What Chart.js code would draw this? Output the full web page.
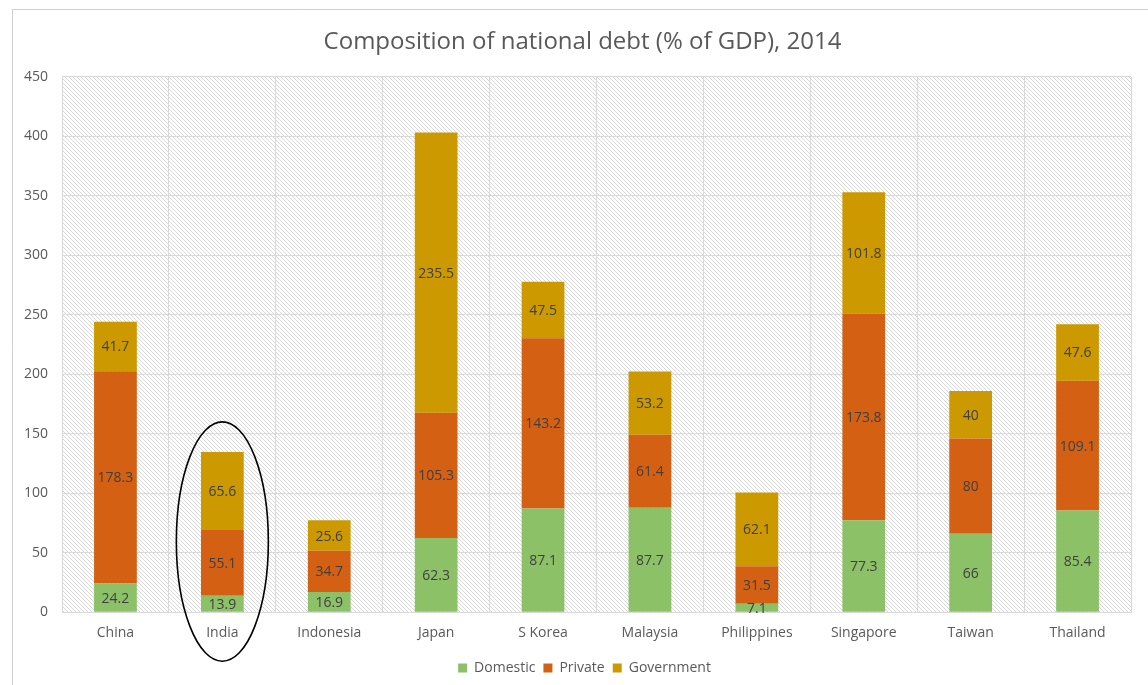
<!DOCTYPE html>
<html>
<head>
<meta charset="utf-8">
<script src="https://cdn.jsdelivr.net/npm/chart.js@4/dist/chart.umd.min.js"></script>
<style>
  html, body { margin: 0; padding: 0; background: #fff; }
  #wrap { width: 1148px; height: 685px; position: relative; }
</style>
</head>
<body>
<div id="wrap"><canvas id="debt"></canvas></div>
<script>
const countries = ["China", "India", "Indonesia", "Japan", "S Korea", "Malaysia", "Philippines", "Singapore", "Taiwan", "Thailand"];
const domestic = [24.2, 13.9, 16.9, 62.3, 87.1, 87.7, 7.1, 77.3, 66, 85.4];
const priv = [178.3, 55.1, 34.7, 105.3, 143.2, 61.4, 31.5, 173.8, 80, 109.1];
const government = [41.7, 65.6, 25.6, 235.5, 47.5, 53.2, 62.1, 101.8, 40, 47.6];

const FONT = "'Open Sans', 'Liberation Sans', sans-serif";
const grey = "#595959";
const gridColor = "#d9d9d9";

// diagonal hatch tile for the plot area
function hatch() {
  const c = document.createElement("canvas");
  c.width = 4; c.height = 4;
  const g = c.getContext("2d");
  g.fillStyle = "#fff";
  g.fillRect(0, 0, 4, 4);
  g.strokeStyle = "#d8d8d8";
  g.lineWidth = 1;
  g.beginPath();
  g.moveTo(-1, -1); g.lineTo(5, 5);
  g.moveTo(-1, 3); g.lineTo(1, 5);
  g.moveTo(3, -1); g.lineTo(5, 1);
  g.stroke();
  return g.createPattern(c, "repeat");
}

const background = {
  id: "background",
  afterLayout(chart) {
    // the frame is wider than the canvas, so title and legend sit right of centre
    chart.titleBlock.left += 10;
    chart.titleBlock.right += 10;
    chart.legend.left += 12;
    chart.legend.right += 12;
  },
  beforeDraw(chart) {
    const ctx = chart.ctx, a = chart.chartArea;
    ctx.save();
    ctx.fillStyle = "#fff";
    ctx.fillRect(0, 0, chart.width, chart.height);
    // outer frame
    ctx.strokeStyle = "#d0d0d0";
    ctx.lineWidth = 1;
    ctx.beginPath();
    ctx.moveTo(12.5, chart.height);
    ctx.lineTo(12.5, 9.5);
    ctx.lineTo(chart.width, 9.5);
    ctx.stroke();
    ctx.fillStyle = hatch();
    ctx.fillRect(a.left, a.top, a.right - a.left, a.bottom - a.top);
    ctx.restore();
  }
};

// value inside each stacked segment
const barLabels = {
  id: "barLabels",
  afterDatasetsDraw(chart) {
    const ctx = chart.ctx;
    ctx.save();
    ctx.font = "14px " + FONT;
    ctx.fillStyle = "#404040";
    ctx.textAlign = "center";
    ctx.textBaseline = "middle";
    chart.data.datasets.forEach((ds, i) => {
      chart.getDatasetMeta(i).data.forEach((bar, j) => {
        const p = bar.getProps(["x", "y", "base"], true);
        ctx.fillText(String(ds.data[j]), p.x, (p.y + p.base) / 2 + 1);
      });
    });
    ctx.restore();
  }
};

// ring drawn round the India column
const ring = {
  id: "ring",
  afterDraw(chart) {
    const x = chart.scales.x, y = chart.scales.y;
    const cx = x.getPixelForValue(1);
    const top = y.getPixelForValue(160);
    const bottom = y.bottom + 49;
    const ctx = chart.ctx;
    ctx.save();
    ctx.strokeStyle = "#000";
    ctx.lineWidth = 1.6;
    ctx.beginPath();
    ctx.ellipse(cx, (top + bottom) / 2, 46, (bottom - top) / 2, 0, 0, Math.PI * 2);
    ctx.stroke();
    ctx.restore();
  }
};

new Chart(document.getElementById("debt"), {
  type: "bar",
  data: {
    labels: countries,
    datasets: [
      { label: "Domestic", data: domestic, backgroundColor: "#8cc168" },
      { label: "Private", data: priv, backgroundColor: "#d36013" },
      { label: "Government", data: government, backgroundColor: "#cc9900" }
    ]
  },
  options: {
    responsive: true,
    maintainAspectRatio: false,
    animation: false,
    devicePixelRatio: 1,
    layout: { padding: { left: 14, right: 17, top: 28, bottom: 0 } },
    datasets: { bar: { barPercentage: 0.4, categoryPercentage: 1 } },
    plugins: {
      title: {
        display: true,
        text: "Composition of national debt (% of GDP), 2014",
        color: grey,
        font: { family: FONT, size: 24, weight: "normal" },
        padding: { top: 0, bottom: 20 }
      },
      legend: {
        position: "bottom",
        labels: {
          color: grey,
          font: { family: FONT, size: 14 },
          boxWidth: 9,
          boxHeight: 9,
          padding: 8
        }
      },
      tooltip: { enabled: false }
    },
    scales: {
      x: {
        stacked: true,
        grid: { color: gridColor, drawTicks: false },
        border: { color: gridColor },
        ticks: { color: grey, font: { family: FONT, size: 14 }, padding: 12 }
      },
      y: {
        stacked: true,
        min: 0,
        max: 450,
        afterFit(s) { s.width = 48; },
        grid: { color: gridColor, drawTicks: false },
        border: { display: false },
        ticks: { stepSize: 50, color: grey, font: { family: FONT, size: 14 }, padding: 14 }
      }
    }
  },
  plugins: [background, barLabels, ring]
});
</script>
</body>
</html>
